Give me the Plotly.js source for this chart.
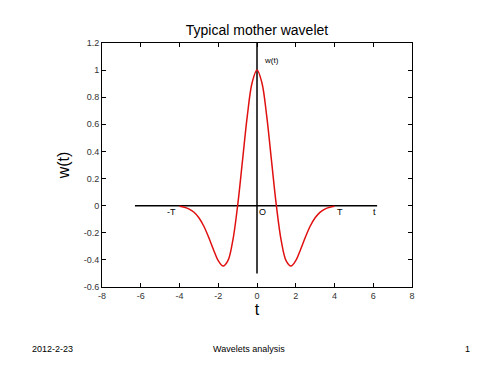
<!DOCTYPE html>
<html>
<head>
<meta charset="utf-8">
<script src="https://cdn.plot.ly/plotly-3.0.1.min.js"></script>
<style>html,body{margin:0;padding:0;background:#fff;}#chart{width:500px;height:375px;}</style>
</head>
<body>
<div id="chart"></div>
<script>
// Wavelet curve
var tValues = [-4, -3.75, -3.5, -3.25, -3, -2.75, -2.5, -2.25, -2, -1.75, -1.5, -1.25, -1, -0.75, -0.5, -0.25, 0,
               0.25, 0.5, 0.75, 1, 1.25, 1.5, 1.75, 2, 2.25, 2.5, 2.75, 3, 3.25, 3.5, 3.75, 4];
var wValues = [-0.005, -0.012, -0.025, -0.049, -0.089, -0.150, -0.231, -0.323, -0.406, -0.446, -0.406, -0.258, 0, 0.330, 0.662, 0.909, 1,
               0.909, 0.662, 0.330, 0, -0.258, -0.406, -0.446, -0.406, -0.323, -0.231, -0.150, -0.089, -0.049, -0.025, -0.012, -0.005];
// Drawn coordinate axes inside the plot
var hAxisT = [-6.3, 6.2];
var hAxisW = [0, 0];
var vAxisT = [0, 0];
var vAxisW = [-0.5, 1.2];
// Tick labels
var xTicks = [-8, -6, -4, -2, 0, 2, 4, 6, 8];
var yTicks = [-0.6, -0.4, -0.2, 0, 0.2, 0.4, 0.6, 0.8, 1, 1.2];
var yTickText = ['-0.6', '-0.4', '-0.2', '0', '0.2', '0.4', '0.6', '0.8', '1', '1.2'];

var traces = [
  {x: hAxisT, y: hAxisW, mode: 'lines', line: {color: '#000', width: 1.5}, hoverinfo: 'skip'},
  {x: vAxisT, y: vAxisW, mode: 'lines', line: {color: '#000', width: 1.5}, hoverinfo: 'skip'},
  {x: tValues, y: wValues, mode: 'lines', line: {color: '#e01010', width: 1.5, shape: 'spline'}}
];

var tickFont = {family: 'Liberation Sans, Arial, sans-serif', size: 9, color: '#333'};
var layout = {
  width: 500, height: 375,
  margin: {l: 102, r: 88, t: 43, b: 88},
  paper_bgcolor: '#fff', plot_bgcolor: '#fff',
  showlegend: false,
  title: {text: 'Typical mother wavelet', font: {family: 'Liberation Sans, Arial, sans-serif', size: 14, color: '#000'},
          x: 0.514, xanchor: 'center', y: 0.92, yanchor: 'middle'},
  xaxis: {range: [-8, 8], tickvals: xTicks, ticktext: xTicks.map(String), ticks: 'inside', ticklen: 4,
          showline: true, mirror: 'ticks', linecolor: '#000', linewidth: 1, showgrid: false, zeroline: false,
          tickfont: tickFont, tickcolor: '#000',
          title: {text: 't', font: {family: 'Liberation Sans, Arial, sans-serif', size: 16, color: '#000'}, standoff: 4}},
  yaxis: {range: [-0.6, 1.2], tickvals: yTicks, ticktext: yTickText, ticks: 'inside', ticklen: 4,
          showline: true, mirror: 'ticks', linecolor: '#000', linewidth: 1, showgrid: false, zeroline: false,
          tickfont: tickFont, tickcolor: '#000',
          title: {text: 'w(t)', font: {family: 'Liberation Sans, Arial, sans-serif', size: 16, color: '#000'}, standoff: 10}},
  annotations: [
    {x: 0.25, y: 1.07, xref: 'x', yref: 'y', text: 'w(t)', showarrow: false, xanchor: 'left', font: {family: 'Liberation Sans, Arial, sans-serif', size: 8, color: '#000'}},
    {x: -4.4, y: -0.05, xref: 'x', yref: 'y', text: '-T', showarrow: false, font: {family: 'Liberation Sans, Arial, sans-serif', size: 9, color: '#000'}},
    {x: 0.3, y: -0.05, xref: 'x', yref: 'y', text: 'O', showarrow: false, font: {family: 'Liberation Sans, Arial, sans-serif', size: 9, color: '#000'}},
    {x: 4.3, y: -0.05, xref: 'x', yref: 'y', text: 'T', showarrow: false, font: {family: 'Liberation Sans, Arial, sans-serif', size: 9, color: '#000'}},
    {x: 6.05, y: -0.05, xref: 'x', yref: 'y', text: 't', showarrow: false, font: {family: 'Liberation Sans, Arial, sans-serif', size: 9, color: '#000'}},
    {x: 30, y: 349, xref: 'paper', yref: 'paper', text: '2012-2-23', showarrow: false, visible: false},
  ]
};
// Footer texts positioned in paper coordinates relative to plot area
var plotW = 500 - 102 - 88, plotH = 375 - 43 - 88;
function px(xp){return (xp - 102) / plotW;}
function py(yp){return (375 - 88 - yp) / plotH;}
layout.annotations.pop();
var footFont = {family: 'Liberation Sans, Arial, sans-serif', size: 9, color: '#000'};
layout.annotations.push({x: px(30), y: py(349), xref: 'paper', yref: 'paper', text: '2012-2-23', showarrow: false, xanchor: 'left', yanchor: 'middle', font: footFont});
layout.annotations.push({x: px(249), y: py(349), xref: 'paper', yref: 'paper', text: 'Wavelets analysis', showarrow: false, xanchor: 'center', yanchor: 'middle', font: footFont});
layout.annotations.push({x: px(467), y: py(349), xref: 'paper', yref: 'paper', text: '1', showarrow: false, xanchor: 'center', yanchor: 'middle', font: footFont});

Plotly.newPlot('chart', traces, layout, {staticPlot: true, displayModeBar: false});
</script>
</body>
</html>
